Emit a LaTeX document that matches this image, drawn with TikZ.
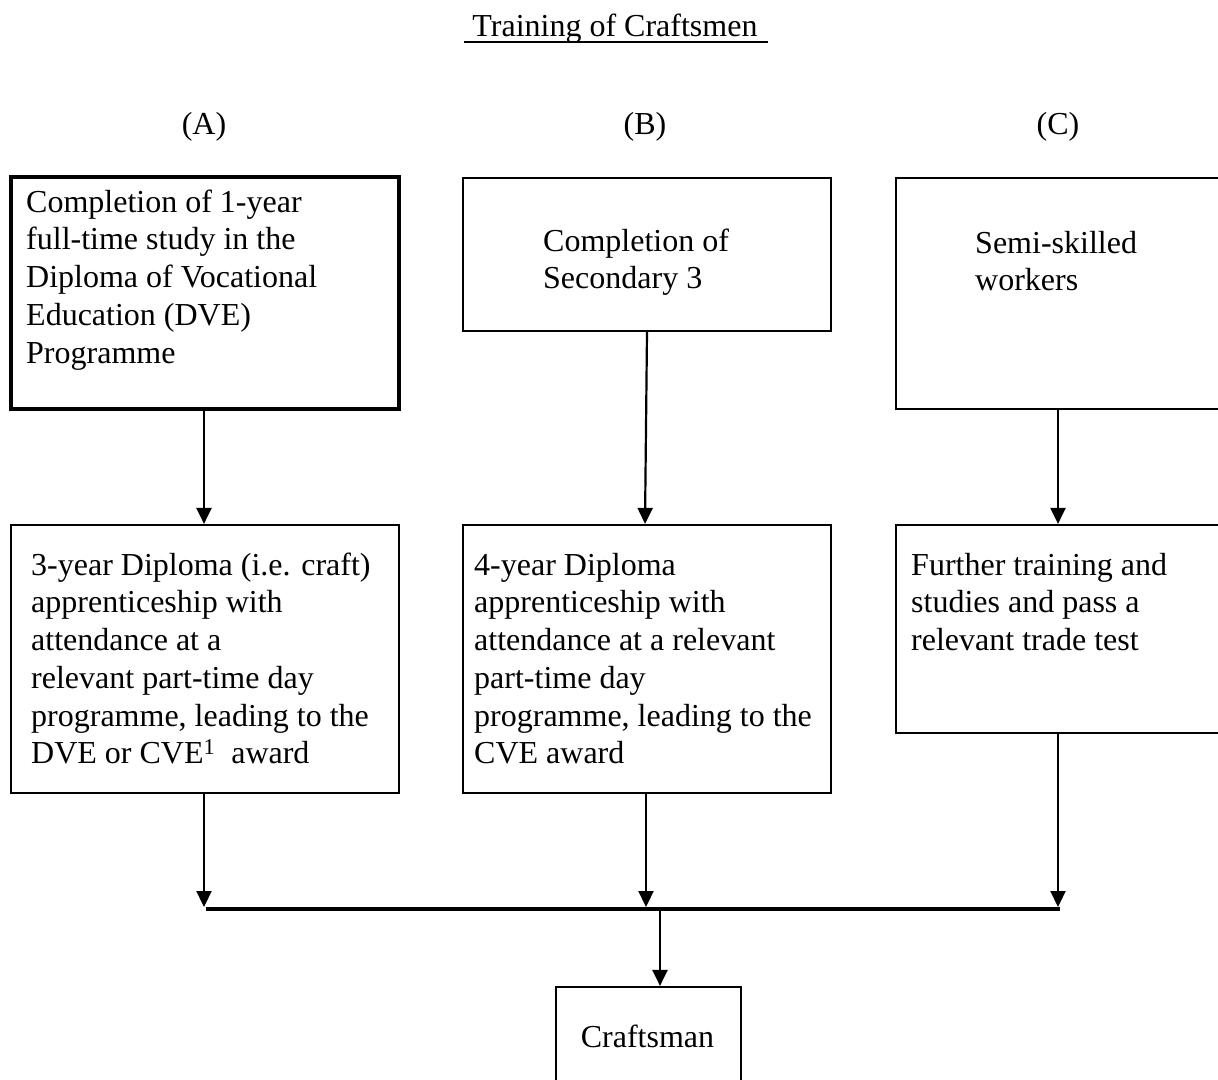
\documentclass[tikz,border=0pt]{standalone}
\usepackage{fontspec}
\setmainfont{Liberation Serif}
\usetikzlibrary{arrows.meta}
\begin{document}
\begin{tikzpicture}[x=1pt,y=-1pt,
  box/.style={draw, line width=2.2pt, inner sep=0pt},
  thickbox/.style={box, line width=3.2pt},
  txt/.style={anchor=north west, align=left, inner sep=0pt, font=\fontsize{32}{37.7}\selectfont},
  lbl/.style={inner sep=0pt, font=\fontsize{32}{37.7}\selectfont},
  arr/.style={line width=2.2pt, -{Triangle[length=16pt,width=15pt]}},
  joinline/.style={line width=3.4pt}]
\useasboundingbox (0,0) rectangle (1218,1079);
\clip (0,0) rectangle (1218,1079);
\fill[white] (0,0) rectangle (1218,1079);
% title
\node[lbl, anchor=base] (title) at (615,36) {Training of Craftsmen};
\draw[line width=2.6pt] ([xshift=-8pt,yshift=-6pt]title.base west) -- ([xshift=10pt,yshift=-6pt]title.base east);
% column labels
\node[lbl, anchor=base] (la) at (204,134) {(A)};
\node[lbl, anchor=base] (lb) at (645,134) {(B)};
\node[lbl, anchor=base] (lc) at (1058,134) {(C)};
% first row boxes
\node[thickbox, minimum width=388pt, minimum height=232pt] (a1) at (205,293) {};
\node[box, minimum width=368pt, minimum height=153pt] (b1) at (647,254.5) {};
\node[box, minimum width=344pt, minimum height=231pt] (c1) at (1068,293.5) {};
\node[txt] (ta1) at (26,188) {\rule{0pt}{24pt}Completion of 1-year\\full-time study in the\\Diploma of Vocational\\Education (DVE)\\Programme};
\node[txt] (tb1) at (543,227) {\rule{0pt}{24pt}Completion of\\Secondary 3};
\node[txt] (tc1) at (975,229) {\rule{0pt}{24pt}Semi-skilled\\workers};
% second row boxes
\node[box, minimum width=388pt, minimum height=268pt] (a2) at (205,659) {};
\node[box, minimum width=368pt, minimum height=268pt] (b2) at (647,659) {};
\node[box, minimum width=344pt, minimum height=208pt] (c2) at (1068,629) {};
\node[txt] (ta2) at (31,551) {\rule{0pt}{24pt}3-year Diploma (i.e. craft)\\apprenticeship with\\attendance at a\\relevant part-time day\\programme, leading to the\\DVE or CVE\textsuperscript{1}\ \ award};
\node[txt] (tb2) at (474,551) {\rule{0pt}{24pt}4-year Diploma\\apprenticeship with\\attendance at a relevant\\part-time day\\programme, leading to the\\CVE award};
\node[txt] (tc2) at (911,551) {\rule{0pt}{24pt}Further training and\\studies and pass a\\relevant trade test};
% final box
\node[box, minimum width=185pt, minimum height=113pt] (cr) at (648.5,1043.5) {};
\node[lbl, anchor=base] (tcr) at (647.5,1047) {Craftsman};
% helper coordinates
\coordinate (cx) at (1058,0);
\coordinate (ja) at (204,907);
\coordinate (jb) at (646,907);
\coordinate (jc) at (1058,907);
\coordinate (jl) at (206,909);
\coordinate (jr) at (1060,909);
\coordinate (jm) at (660,909);
% connectors row 1 -> row 2
\draw[arr] ([xshift=-1pt]a1.south) -- ([xshift=-1pt]a2.north);
\draw[arr] (b1.south) -- ([xshift=-2pt]b2.north);
\draw[arr] (c1.south -| cx) -- (c2.north -| cx);
% connectors row 2 -> join line
\draw[arr] (a2.south -| ja) -- (ja);
\draw[arr] (b2.south -| jb) -- (jb);
\draw[arr] (c2.south -| jc) -- (jc);
\draw[joinline] (jl) -- (jr);
\draw[arr] (jm) -- (cr.north -| jm);
\end{tikzpicture}
\end{document}
